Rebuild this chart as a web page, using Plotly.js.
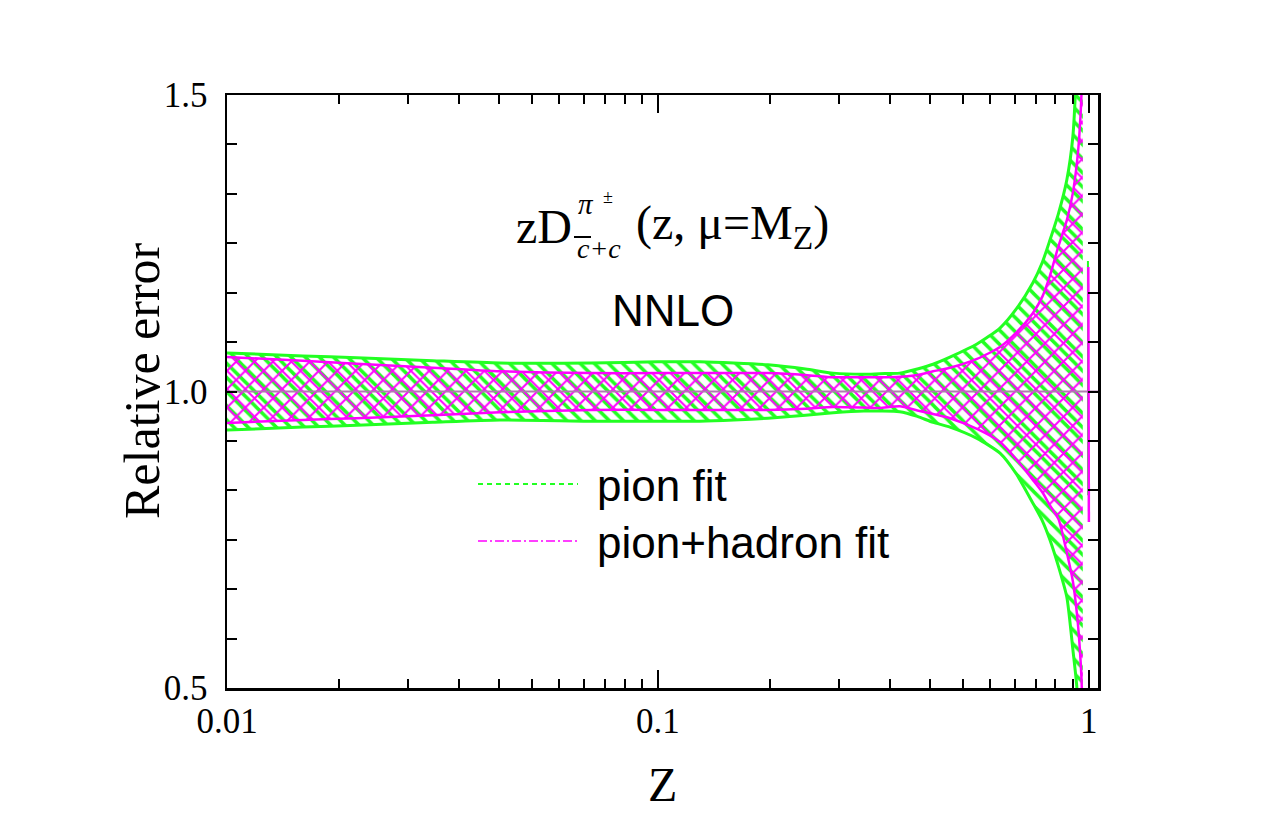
<!DOCTYPE html>
<html><head><meta charset="utf-8">
<script src="https://cdn.plot.ly/plotly-3.0.1.min.js"></script>
<style>html,body{margin:0;padding:0;background:#fff}</style>
</head><body><div id="chart" style="width:1275px;height:825px"></div>
<script>
// ---- data ----
const z = [0.01, 0.015, 0.02, 0.03, 0.043, 0.07, 0.1, 0.125, 0.15, 0.18, 0.22, 0.255, 0.3, 0.327, 0.364, 0.4, 0.435, 0.476, 0.55, 0.622, 0.68, 0.741, 0.78, 0.812, 0.85, 0.889, 0.918, 0.938, 0.95, 0.963, 0.968];
const pionUpper = [1.065, 1.060, 1.057, 1.052, 1.048, 1.048, 1.050, 1.050, 1.048, 1.045, 1.038, 1.031, 1.029, 1.030, 1.031, 1.038, 1.046, 1.058, 1.080, 1.107, 1.140, 1.183, 1.218, 1.255, 1.300, 1.357, 1.430, 1.570, 1.750, 2.300, 4.000];
const pionLower = [0.935, 0.940, 0.943, 0.948, 0.952, 0.950, 0.950, 0.950, 0.952, 0.955, 0.960, 0.964, 0.967, 0.967, 0.966, 0.958, 0.948, 0.940, 0.921, 0.896, 0.860, 0.812, 0.782, 0.750, 0.705, 0.653, 0.565, 0.500, 0.350, -0.200, -3.000];
const hadUpper = [1.058, 1.052, 1.047, 1.040, 1.034, 1.031, 1.031, 1.031, 1.031, 1.031, 1.028, 1.024, 1.024, 1.024, 1.025, 1.028, 1.034, 1.040, 1.055, 1.075, 1.100, 1.132, 1.160, 1.195, 1.245, 1.289, 1.335, 1.385, 1.430, 1.520, 4.000];
const hadLower = [0.947, 0.952, 0.955, 0.960, 0.965, 0.969, 0.969, 0.969, 0.969, 0.969, 0.971, 0.974, 0.973, 0.972, 0.975, 0.968, 0.962, 0.955, 0.937, 0.915, 0.885, 0.851, 0.830, 0.808, 0.785, 0.728, 0.680, 0.626, 0.580, 0.500, -3.000];
// short end pieces at z -> 1
const pionTailZ = [0.995, 0.996];
const pionTailV = [1.22, 0.825];
const hadTailZ = [0.997, 1.0];
const hadTailV = [1.21, 0.78];
// reference line at 1
const refZ = [0.01, 1.05];
const refV = [1, 1];
// ticks
const xMajor = [0.01, 0.1, 1];
const xMajorText = ['0.01', '0.1', '1'];
const xMinor = [0.01818, 0.02636, 0.03455, 0.04273, 0.05091, 0.05909, 0.06727, 0.07545, 0.08364, 0.09182,
                0.1818, 0.2636, 0.3455, 0.4273, 0.5091, 0.5909, 0.6727, 0.7545, 0.8364, 0.9182];
const yMajor = [0.5, 1.0, 1.5];
const yMajorText = ['0.5', '1.0', '1.5'];
const yMinor = [0.58333, 0.66667, 0.75, 0.83333, 0.91667, 1.08333, 1.16667, 1.25, 1.33333, 1.41667];

const GREEN = '#22ff22', MAG = '#ff00ff';
const SERIF = 'Liberation Serif, Times New Roman, serif';
const SANS = 'Liberation Sans, Arial, sans-serif';
const L = 227, R = 1098, T = 95, B = 688;
const px = x => (x - L) / (R - L);
const py = y => (B - y) / (B - T);

const lineOpts = (c, w) => ({color: c, width: w, shape: 'spline', smoothing: 0.6});

const traces = [
  {x: z, y: pionLower, mode: 'lines', line: lineOpts(GREEN, 3), showlegend: false, hoverinfo: 'skip'},
  {x: z, y: pionUpper, mode: 'lines', fill: 'tonexty', fillcolor: 'rgba(0,0,0,0)',
   fillpattern: {shape: '\\', fgcolor: GREEN, size: 10, solidity: 0.35},
   line: lineOpts(GREEN, 3), name: 'pion fit', showlegend: false},
  {x: z, y: hadLower, mode: 'lines', line: lineOpts(MAG, 2.5), showlegend: false, hoverinfo: 'skip'},
  {x: z, y: hadUpper, mode: 'lines', fill: 'tonexty', fillcolor: 'rgba(0,0,0,0)',
   fillpattern: {shape: 'x', fgcolor: MAG, size: 13, solidity: 0.28},
   line: lineOpts(MAG, 2.5), name: 'pion+hadron fit', showlegend: false},
  {x: refZ, y: refV, mode: 'lines', line: {color: '#b07ab0', width: 2}, showlegend: false},
  {x: pionTailZ, y: pionTailV, mode: 'lines', line: {color: GREEN, width: 2}, showlegend: false},
  {x: hadTailZ, y: hadTailV, mode: 'lines', line: {color: MAG, width: 2.5}, showlegend: false}
];

const ann = (text, x, y, size, family, extra) => Object.assign({
  text, x: px(x), y: py(y), xref: 'paper', yref: 'paper', showarrow: false,
  xanchor: 'left', yanchor: 'middle', font: {family, size, color: 'black'}
}, extra || {});

const layout = {
  width: 1275, height: 825,
  margin: {l: L, r: 1275 - R, t: T, b: 825 - B, pad: 0},
  paper_bgcolor: 'white', plot_bgcolor: 'white',
  showlegend: false,
  xaxis: {
    type: 'log', range: [-2, Math.log10(1.05)],
    showline: true, linecolor: 'black', linewidth: 2.5, mirror: 'ticks',
    ticks: 'inside', ticklen: 18, tickwidth: 2, tickcolor: 'black',
    tickmode: 'array', tickvals: xMajor, ticktext: xMajorText,
    tickfont: {family: SERIF, size: 35, color: 'black'}, ticklabelstandoff: 0,
    showgrid: false, zeroline: false,
    minor: {tickmode: 'array', tickvals: xMinor, ticks: 'inside', ticklen: 9, tickwidth: 2, tickcolor: 'black', showgrid: false}
  },
  yaxis: {
    range: [0.5, 1.5],
    showline: true, linecolor: 'black', linewidth: 2.5, mirror: 'ticks',
    ticks: 'inside', ticklen: 10, tickwidth: 2, tickcolor: 'black',
    tickmode: 'array', tickvals: yMajor, ticktext: yMajorText,
    tickfont: {family: SERIF, size: 35, color: 'black'}, ticklabelstandoff: 10,
    showgrid: false, zeroline: false,
    minor: {tickmode: 'array', tickvals: yMinor, ticks: 'inside', ticklen: 10, tickwidth: 2, tickcolor: 'black', showgrid: false}
  },
  shapes: [
    {type: 'line', xref: 'paper', yref: 'paper', x0: px(574), x1: px(591), y0: py(237), y1: py(237), line: {color: 'black', width: 2}},
    {type: 'line', xref: 'paper', yref: 'paper', x0: px(478), x1: px(578), y0: py(484), y1: py(484), line: {color: GREEN, width: 2, dash: '5px,4px'}},
    {type: 'line', xref: 'paper', yref: 'paper', x0: px(478), x1: px(580), y0: py(541), y1: py(541), line: {color: MAG, width: 1.5, dash: '9px,3px,2px,3px'}}
  ],
  annotations: [
    ann('zD', 514, 226, 48, SERIF),
    ann('<i>c+c</i>', 575, 248, 28, SERIF),
    ann('<i>π</i>', 576, 204, 29, SERIF),
    ann('±', 601, 197, 18, SERIF),
    ann('(z, μ=M<sub>Z</sub>)', 634, 226, 48, SERIF),
    ann('NNLO', 673, 310, 44, SANS, {xanchor: 'center'}),
    ann('pion fit', 595, 485, 44, SANS),
    ann('pion+hadron fit', 595, 542, 44, SANS),
    ann('Z', 662.5, 784, 48, SERIF, {xanchor: 'center'}),
    ann('Relative error', 142, 381, 50, SERIF, {xanchor: 'center', textangle: -90})
  ]
};

Plotly.newPlot('chart', traces, layout, {displayModeBar: false, staticPlot: true});
</script></body></html>
